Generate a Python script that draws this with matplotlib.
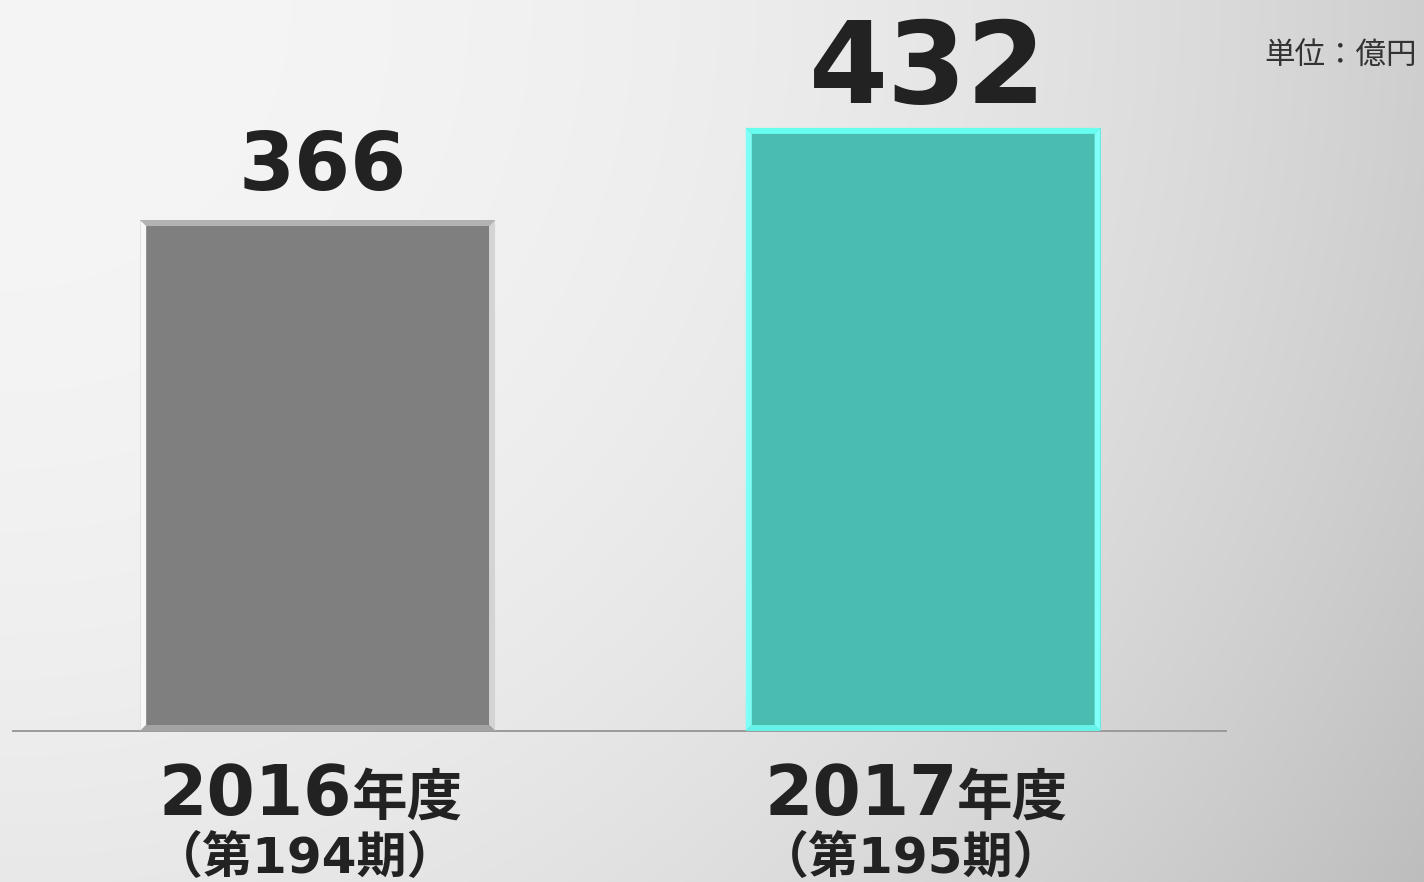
import numpy as np
import matplotlib
matplotlib.use("Agg")
import matplotlib.pyplot as plt
from matplotlib.patches import Polygon

# ---- data ----
years = ["2016", "2017"]
year_suffix = ["年度", "年度"]
periods = ["（第194期）", "（第195期）"]
values = [366, 432]
unit_label = "単位：億円"

# ---- style ----
fill_colors = ["#7f7f7f", "#4bbdb0"]
bevel_colors = [  # top, left, right, bottom
    ("#b3b3b3", "#f8f8f8", "#d4d4d4", "#a3a3a3"),
    ("#66fff0", "#7efff8", "#7efff8", "#66f2e6"),
]
value_sizes = [58, 82]
value_offsets = [30, 25]
CJK = ["Noto Sans CJK JP", "DejaVu Sans"]
NUM = ["DejaVu Sans", "Noto Sans CJK JP"]
plt.rcParams["font.family"] = CJK

W, H, DPI = 1424, 882, 100
fig = plt.figure(figsize=(W / DPI, H / DPI), dpi=DPI)

# background gradient
bg = fig.add_axes([0, 0, 1, 1], zorder=-10)
yy, xx = np.mgrid[0:H, 0:W]
d = np.sqrt(xx.astype(float) ** 2 + yy.astype(float) ** 2) / np.sqrt(W ** 2 + H ** 2)
val = (245 - 56 * d ** 2.3) / 255.0
bg.imshow(np.dstack([val, val, val]), aspect="auto", extent=[0, 1, 0, 1], origin="upper")
bg.axis("off")

ax = fig.add_axes([13 / W, (H - 731) / H, 1213 / W, 731 / H])
ax.patch.set_alpha(0)
ax.set_xlim(-0.503, 1.5)
ax.set_ylim(0, 523.6)
for s in ["top", "left", "right"]:
    ax.spines[s].set_visible(False)
ax.spines["bottom"].set_color("#9a9a9a")
ax.spines["bottom"].set_linewidth(1.4)
ax.set_xticks([])
ax.set_yticks([])

x = np.arange(len(values))
width = 0.586
bars = ax.bar(x, values, width=width, color=fill_colors, zorder=2)

# bevel edges
bev = 6
inv = ax.transData.inverted()
for b, cols in zip(bars, bevel_colors):
    x0, y0 = b.get_x(), b.get_y()
    x1, y1 = x0 + b.get_width(), y0 + b.get_height()
    (px0, py0), (px1, py1) = ax.transData.transform([(x0, y0), (x1, y1)])
    o = [(px0, py1), (px1, py1), (px1, py0), (px0, py0)]  # TL TR BR BL
    i = [(px0 + bev, py1 - bev), (px1 - bev, py1 - bev), (px1 - bev, py0 + bev), (px0 + bev, py0 + bev)]
    quads = [
        [o[0], o[1], i[1], i[0]],  # top
        [o[0], i[0], i[3], o[3]],  # left
        [o[1], o[2], i[2], i[1]],  # right
        [o[3], o[2], i[2], i[3]],  # bottom
    ]
    for q, c in zip(quads, cols):
        ax.add_patch(Polygon(inv.transform(q), closed=True, facecolor=c, edgecolor="none", zorder=3))

# value labels
for xi, v, fs, off in zip(x, values, value_sizes, value_offsets):
    ax.annotate(str(v), xy=(xi, v), xytext=(5, off), textcoords="offset pixels",
                ha="center", va="baseline", fontsize=fs, fontweight="bold",
                family=NUM, color="#222222", annotation_clip=False)

# category labels
fig.canvas.draw()
rend = fig.canvas.get_renderer()
for xi, yr, suf, per in zip(x, years, year_suffix, periods):
    t1 = ax.annotate(yr, xy=(xi, 0), xytext=(0, -84), textcoords="offset pixels",
                     ha="left", va="baseline", fontsize=50, fontweight="bold",
                     family=NUM, color="#222222", annotation_clip=False)
    t2 = ax.annotate(suf, xy=(xi, 0), xytext=(0, -84), textcoords="offset pixels",
                     ha="left", va="baseline", fontsize=40, fontweight="bold",
                     color="#222222", annotation_clip=False)
    w1 = t1.get_window_extent(rend).width
    w2 = t2.get_window_extent(rend).width
    tot = w1 + w2
    t1.set_position((-tot / 2 - 7, -84))
    t2.set_position((-tot / 2 - 7 + w1, -84))
    ax.annotate(per, xy=(xi, 0), xytext=(-12, -142), textcoords="offset pixels",
                ha="center", va="baseline", fontsize=36, fontweight="bold",
                family=NUM, color="#222222", annotation_clip=False)

fig.text(1341 / W, 1 - 56 / H, unit_label, ha="center", va="center",
         fontsize=22, color="#333333")

fig.savefig("out.png", dpi=DPI)
